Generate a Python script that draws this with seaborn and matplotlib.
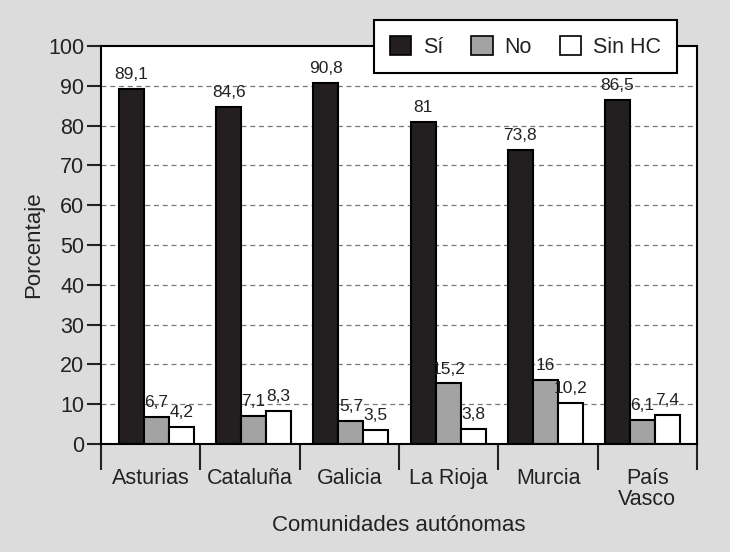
import matplotlib
matplotlib.use('Agg')
import matplotlib.pyplot as plt
import numpy as np
import pandas as pd
import seaborn as sns

COMUNIDADES = ['Asturias', 'Cataluña', 'Galicia', 'La Rioja', 'Murcia', 'País\nVasco']
RESPUESTAS = ['Sí', 'No', 'Sin HC']
SI = [89.1, 84.6, 90.8, 81, 73.8, 86.5]
NO = [6.7, 7.1, 5.7, 15.2, 16, 6.1]
SIN_HC = [4.2, 8.3, 3.5, 3.8, 10.2, 7.4]
COLORS = ['#231f20', '#a3a3a3', '#ffffff']
BG = '#dcdcdc'
TEXT = '#222222'

sns.set_theme(style='white')
plt.rcParams['font.family'] = ['Liberation Sans', 'DejaVu Sans']
plt.rcParams['text.color'] = TEXT
plt.rcParams['axes.labelcolor'] = TEXT
plt.rcParams['xtick.color'] = TEXT
plt.rcParams['ytick.color'] = TEXT

df = pd.DataFrame({
    'comunidad': COMUNIDADES * 3,
    'respuesta': [r for r in RESPUESTAS for _ in COMUNIDADES],
    'pct': SI + NO + SIN_HC,
})

fig = plt.figure(figsize=(7.3, 5.52), dpi=100, facecolor=BG)
ax = fig.add_axes([0.1384, 0.1957, 0.8164, 0.721])
ax.set_facecolor('white')

sns.barplot(data=df, x='comunidad', y='pct', hue='respuesta',
            order=COMUNIDADES, hue_order=RESPUESTAS, palette=COLORS,
            width=0.77, saturation=1, edgecolor='black', linewidth=1.5,
            ax=ax, legend=False, errorbar=None)

for cont in ax.containers:
    vals = [b.get_height() for b in cont]
    labels = [f'{v:g}'.replace('.', ',') for v in vals]
    ax.bar_label(cont, labels=labels, padding=5, fontsize=12.5, color=TEXT)

# bars sit on a slightly tighter grid than the category separators
x0, x1 = -0.57, 5.56
ax.set_xlim(x0, x1)
ax.set_ylim(0, 100)
ax.set_yticks(np.arange(0, 101, 10))
for y in range(10, 100, 10):
    ax.axhline(y, color='#777777', linestyle=(0, (4, 3)), linewidth=0.9, zorder=0)

for s in ax.spines.values():
    s.set_color('black')
    s.set_linewidth(1.5)

ax.tick_params(axis='y', which='major', length=10, width=1.5, labelsize=15.5, pad=2, left=True)

bounds = np.linspace(x0, x1, len(COMUNIDADES) + 1)
ax.set_xticks((bounds[:-1] + bounds[1:]) / 2)
ax.set_xticklabels(COMUNIDADES, fontsize=15.5, linespacing=1.0, va='top')
ax.tick_params(axis='x', which='major', length=0, pad=17)
ax.set_xticks(bounds, minor=True)
ax.tick_params(axis='x', which='minor', length=19, width=1.5, bottom=True)

ax.set_ylabel('Porcentaje', fontsize=16, labelpad=3)
ax.set_xlabel('Comunidades autónomas', fontsize=16, labelpad=4)

handles = [plt.Rectangle((0, 0), 1, 1, facecolor=c, edgecolor='black', linewidth=1.2)
           for c in COLORS]
leg = ax.legend(handles, RESPUESTAS, ncol=3, loc='upper right',
                bbox_to_anchor=(0.966, 1.065), borderaxespad=0,
                frameon=True, fancybox=False,
                edgecolor='black', framealpha=1, fontsize=15.5,
                handlelength=1.0, handleheight=1.0, columnspacing=1.3,
                handletextpad=0.55, borderpad=0.72)
leg.get_frame().set_linewidth(1.5)
leg.set_zorder(10)

fig.savefig('out.png', dpi=100, facecolor=BG)
